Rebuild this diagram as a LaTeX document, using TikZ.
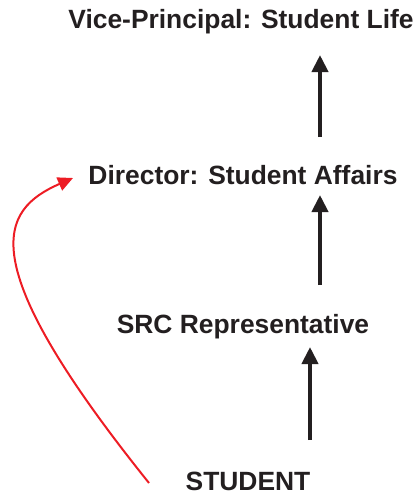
\documentclass[tikz,border=0pt]{standalone}
\usepackage{fontspec}
\setmainfont{Liberation Sans}
\usetikzlibrary{arrows.meta}
\definecolor{ink}{HTML}{231F20}
\definecolor{redline}{HTML}{ED1C24}
\begin{document}
\begin{tikzpicture}[x=1pt,y=-1pt,
  lbl/.style={font=\fontsize{26.4}{30}\selectfont\bfseries, text=ink, inner sep=0pt, anchor=center},
  uparrow/.style={draw=ink, line width=4pt, -{Triangle[width=16pt,length=17pt]}},
  redarrow/.style={draw=redline, line width=2pt, -{Triangle[width=14pt,length=15pt]}}]
\useasboundingbox (0,0) rectangle (419,498);
\node[lbl] (vp) at (241,22) {Vice-Principal: Student Life};
\node[lbl] (dir) at (243,175) {Director: Student Affairs};
\node[lbl] (src) at (243,327) {SRC Representative};
\node[lbl] (stu) at (248,481) {STUDENT};
\coordinate (a1s) at (320,137); \coordinate (a1e) at (320,55);
\coordinate (a2s) at (320,285); \coordinate (a2e) at (320,195);
\coordinate (a3s) at (310,440); \coordinate (a3e) at (310,347);
\coordinate (rs) at (149,483); \coordinate (re) at (73,178);
\draw[uparrow] (a1s) -- (a1e);
\draw[uparrow] (a2s) -- (a2e);
\draw[uparrow] (a3s) -- (a3e);
\draw[redarrow] (rs) .. controls (-30,260) and (0,210) .. (re);
\end{tikzpicture}
\end{document}
